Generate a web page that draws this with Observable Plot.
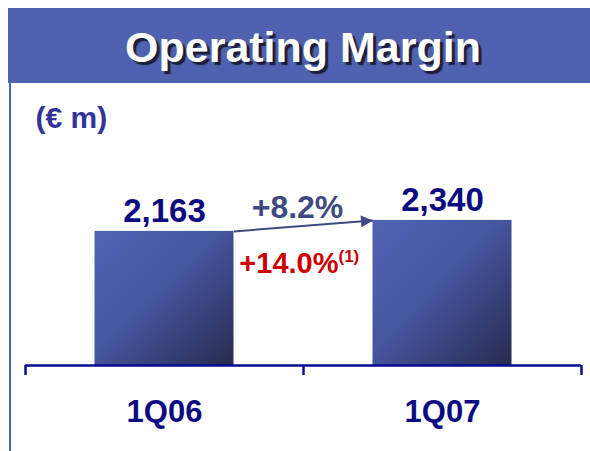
<!DOCTYPE html>
<html><head><meta charset="utf-8">
<script src="https://cdn.jsdelivr.net/npm/d3@7"></script>
<script src="https://cdn.jsdelivr.net/npm/@observablehq/plot@0.6"></script>
<style>
body{margin:0;background:#fff;}
#wrap{position:relative;width:590px;height:451px;overflow:hidden;font-family:"Liberation Sans",Arial,sans-serif;}
#title{position:absolute;left:8px;top:8px;width:582px;height:75px;background:#4F61AF;color:#fff;font-weight:bold;font-size:43px;line-height:75px;text-align:center;text-shadow:3px 3px 1px #1c1d3a;box-sizing:border-box;padding-left:8px;padding-top:2px;}
#chart{position:absolute;left:0;top:83px;}
#vline{position:absolute;left:9px;top:83px;width:2px;height:368px;background:#4F5FB5;}
</style></head><body>
<div id="wrap"><div id="title">Operating Margin</div><div id="chart"></div><div id="vline"></div></div>
<script>
const categories = ["1Q06", "1Q07"];
const values = [2163, 2340];
const valueLabels = ["2,163", "2,340"];
const unitLabel = "(€ m)";
const growthLabel = "+8.2%";
const growthLabelAdj = "+14.0%";
const footnoteMark = "(1)";
const axisTicks = [0, 1, 2];

const data = categories.map((c, i) => ({category: c, index: i, value: values[i], label: valueLabels[i]}));
const halfGap = 0.25;
const arrowData = [{x1: 1 - halfGap, y1: values[0], x2: 1 + halfGap, y2: values[1]}];
const mid = categories.length / 2;

const font = '"Liberation Sans", Arial, sans-serif';
const plot = Plot.plot({
  width: 590, height: 368,
  marginLeft: 25, marginRight: 9, marginTop: 34, marginBottom: 86,
  x: {type: "linear", domain: [0, categories.length], axis: null},
  y: {domain: [0, 4000], axis: null},
  style: {fontFamily: font, background: "transparent", overflow: "visible"},
  marks: [
    Plot.rectY(data, {x1: d => d.index + halfGap, x2: d => d.index + 1 - halfGap, y1: 0, y2: "value", fill: "url(#barGrad)"}),
    Plot.ruleY([0], {stroke: "#0a0a96", strokeWidth: 2.5}),
    Plot.axisX({ticks: axisTicks, tickSize: 10, tickFormat: () => "", stroke: "#0a0a96", strokeWidth: 2.5}),
    Plot.text(data, {x: d => d.index + 0.5, y: "value", text: "label", dy: -9, lineAnchor: "bottom", fontSize: 33, fontWeight: "bold", fill: "#0c0c80"}),
    Plot.text(data, {x: d => d.index + 0.5, text: "category", frameAnchor: "bottom", dy: 56, lineAnchor: "bottom", fontSize: 31, fontWeight: "bold", fill: "#0c0c80"}),
    Plot.text([unitLabel], {frameAnchor: "top-left", text: d => d, dx: 10, dy: 10, lineAnchor: "bottom", textAnchor: "start", fontSize: 30, fontWeight: "bold", fill: "#333399"}),
    Plot.link(arrowData, {x1: "x1", y1: "y1", x2: "x2", y2: "y2", stroke: "#3d4a80", strokeWidth: 2}),
    Plot.text([growthLabel], {x: () => mid, y: () => values[1], text: d => d, dx: -6, dy: -2, lineAnchor: "bottom", fontSize: 32, fontWeight: "bold", fill: "#3f4b80"}),
    Plot.text([growthLabelAdj], {x: () => mid, y: () => values[0], text: d => d, textAnchor: "end", dx: 35, dy: 42, lineAnchor: "bottom", fontSize: 29, fontWeight: "bold", fill: "#cc0000"}),
    Plot.text([footnoteMark], {x: () => mid, y: () => values[0], text: d => d, textAnchor: "start", dx: 35, dy: 31, lineAnchor: "bottom", fontSize: 17, fontWeight: "bold", fill: "#cc0000"})
  ]
});

const svg = d3.select(plot);
const defs = svg.insert("defs", ":first-child");
const g = defs.append("linearGradient").attr("id", "barGrad").attr("x1", 0).attr("y1", 0).attr("x2", 1).attr("y2", 1);
g.append("stop").attr("offset", "0%").attr("stop-color", "#5164b3");
g.append("stop").attr("offset", "45%").attr("stop-color", "#4656a0");
g.append("stop").attr("offset", "100%").attr("stop-color", "#282b4f");
defs.append("marker").attr("id", "ah").attr("viewBox", "0 0 10 10").attr("refX", 10).attr("refY", 5)
  .attr("markerWidth", 8).attr("markerHeight", 6).attr("orient", "auto").attr("markerUnits", "strokeWidth")
  .append("path").attr("d", "M0,0L10,5L0,10z").attr("fill", "#3d4a80");
svg.selectAll('g[aria-label="link"] path').attr("marker-end", "url(#ah)");

document.getElementById("chart").appendChild(plot);
</script>
</body></html>
